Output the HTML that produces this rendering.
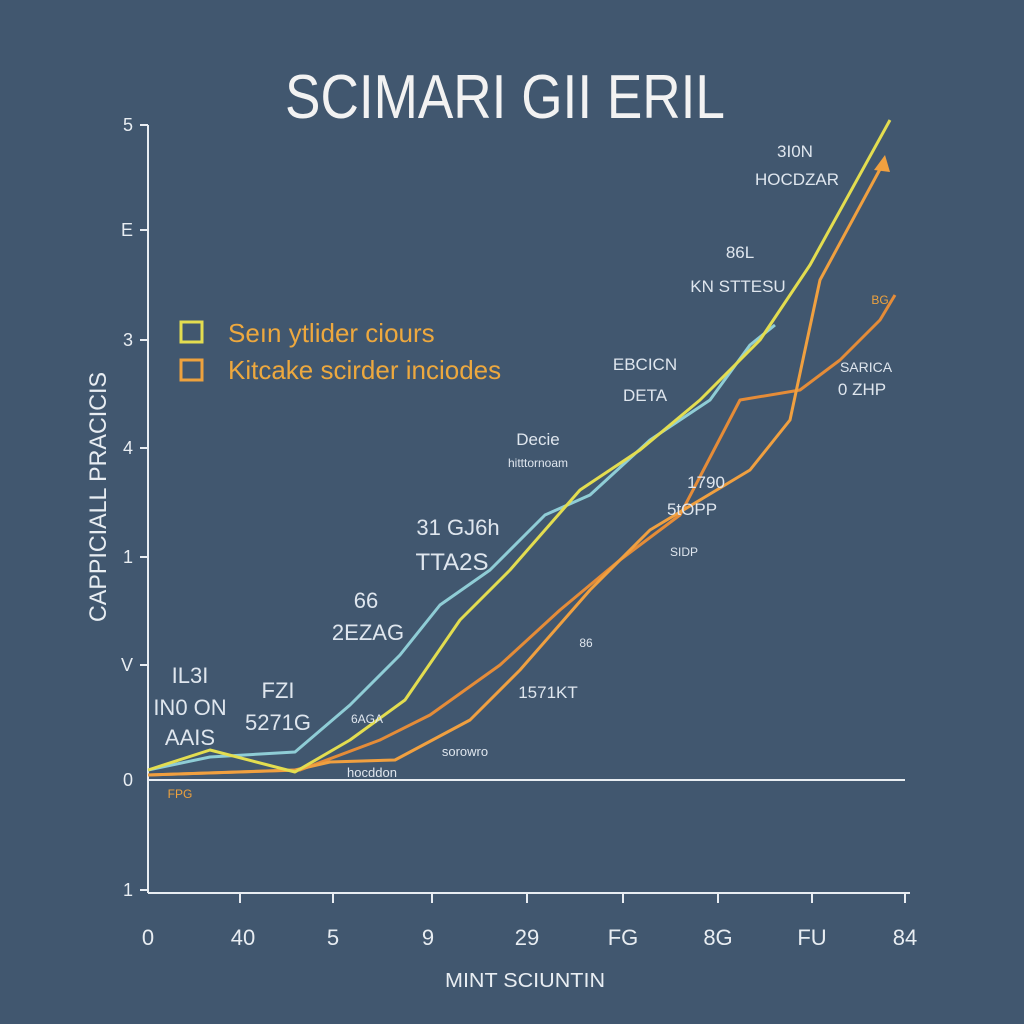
<!DOCTYPE html>
<html><head><style>
html,body{margin:0;padding:0;width:1024px;height:1024px;overflow:hidden;background:#41576f;}
svg text{font-family:"Liberation Sans",sans-serif;}
</style></head><body>
<svg width="1024" height="1024" viewBox="0 0 1024 1024" xmlns="http://www.w3.org/2000/svg">
<rect width="1024" height="1024" fill="#41576f"/>
<text x="505" y="118" font-size="62" fill="#f2f2f2" text-anchor="middle" font-weight="300" textLength="440" lengthAdjust="spacingAndGlyphs">SCIMARI GII ERIL</text>
<g stroke="#e8edf2" stroke-width="2" fill="none">
<line x1="148" y1="125" x2="148" y2="893"/>
<line x1="148" y1="780" x2="905" y2="780"/>
<line x1="148" y1="893" x2="910" y2="893"/>
<line x1="140" y1="125" x2="148" y2="125"/><line x1="140" y1="230" x2="148" y2="230"/>
<line x1="140" y1="340" x2="148" y2="340"/><line x1="140" y1="448" x2="148" y2="448"/>
<line x1="140" y1="557" x2="148" y2="557"/><line x1="140" y1="665" x2="148" y2="665"/>
<line x1="140" y1="890" x2="148" y2="890"/>
<line x1="240" y1="893" x2="240" y2="903"/><line x1="333" y1="893" x2="333" y2="903"/>
<line x1="432" y1="893" x2="432" y2="903"/><line x1="527" y1="893" x2="527" y2="903"/>
<line x1="623" y1="893" x2="623" y2="903"/><line x1="718" y1="893" x2="718" y2="903"/>
<line x1="812" y1="893" x2="812" y2="903"/><line x1="905" y1="893" x2="905" y2="903"/>
</g>
<g fill="#e8edf2" font-size="18" text-anchor="end">
<text x="133" y="131">5</text><text x="133" y="236">E</text><text x="133" y="346">3</text>
<text x="133" y="454">4</text><text x="133" y="563">1</text><text x="133" y="671">V</text>
<text x="133" y="786">0</text><text x="133" y="896">1</text>
</g>
<g fill="#e8edf2" font-size="22" text-anchor="middle">
<text x="148" y="945">0</text><text x="243" y="945">40</text><text x="333" y="945">5</text>
<text x="428" y="945">9</text><text x="527" y="945">29</text><text x="623" y="945">FG</text>
<text x="718" y="945">8G</text><text x="812" y="945">FU</text><text x="905" y="945">84</text>
</g>
<text x="525" y="987" fill="#e8edf2" font-size="20" text-anchor="middle" textLength="160" lengthAdjust="spacingAndGlyphs">MINT SCIUNTIN</text>
<text transform="translate(106,497) rotate(-90)" fill="#e8edf2" font-size="24" text-anchor="middle" textLength="250" lengthAdjust="spacingAndGlyphs">CAPPICIALL PRACICIS</text>
<rect x="181" y="322" width="21" height="20" fill="none" stroke="#e3dd50" stroke-width="3"/>
<rect x="181" y="360" width="21" height="20" fill="none" stroke="#eda23e" stroke-width="3"/>
<text x="228" y="342" fill="#eda83e" font-size="26">Seın ytlider ciours</text>
<text x="228" y="379" fill="#eda83e" font-size="26">Kitcake scirder inciodes</text>
<g fill="none" stroke-width="3" stroke-linejoin="round">
<polyline stroke="#e58c38" points="148,775 300,770 380,740 430,715 500,665 560,610 620,560 680,515 740,400 800,390 840,360 880,320 895,295"/>
<polyline stroke="#f0a040" points="148,775 295,770 330,762 395,760 470,720 520,670 590,590 650,530 700,500 750,470 790,420 820,280 885,160"/>
<polyline stroke="#8fcdd6" points="148,770 210,757 295,752 350,705 400,655 440,605 490,570 545,515 590,495 650,440 710,400 750,345 775,325"/>
<polyline stroke="#e3dd50" points="148,770 210,750 295,772 350,740 405,700 460,620 510,570 580,490 640,450 700,400 760,340 810,265 890,120"/>
</g>
<polygon points="885,155 874,170 890,172" fill="#f0a040"/>
<g fill="#dfe6ee" font-size="17" text-anchor="middle">
<text x="795" y="157">3I0N</text><text x="797" y="185">HOCDZAR</text>
<text x="740" y="258">86L</text><text x="738" y="292">KN STTESU</text>
<text x="645" y="370">EBCICN</text><text x="645" y="401">DETA</text>
<text x="538" y="445">Decie</text><text x="538" y="467" font-size="12">hitttornoam</text>
<text x="458" y="535" font-size="22">31 GJ6h</text><text x="452" y="570" font-size="24">TTA2S</text>
<text x="366" y="608" font-size="22">66</text><text x="368" y="640" font-size="22">2EZAG</text>
<text x="190" y="683" font-size="22">IL3I</text><text x="190" y="715" font-size="22">IN0 ON</text><text x="190" y="745" font-size="22">AAIS</text>
<text x="278" y="698" font-size="22">FZI</text><text x="278" y="730" font-size="22">5271G</text>
<text x="706" y="488">1790</text><text x="692" y="515">5tOPP</text>
<text x="684" y="556" font-size="12">SIDP</text>
<text x="586" y="647" font-size="12">86</text><text x="548" y="698">1571KT</text>
<text x="866" y="372" font-size="14">SARICA</text><text x="862" y="395">0 ZHP</text>
<text x="465" y="756" font-size="13">sorowro</text>
<text x="372" y="777" font-size="13">hocddon</text>
<text x="367" y="723" font-size="12">6AGA</text>
</g>
<text x="180" y="798" fill="#eda23e" font-size="12" text-anchor="middle">FPG</text>
<text x="880" y="304" fill="#eda23e" font-size="12" text-anchor="middle">BG</text>
</svg>
</body></html>
